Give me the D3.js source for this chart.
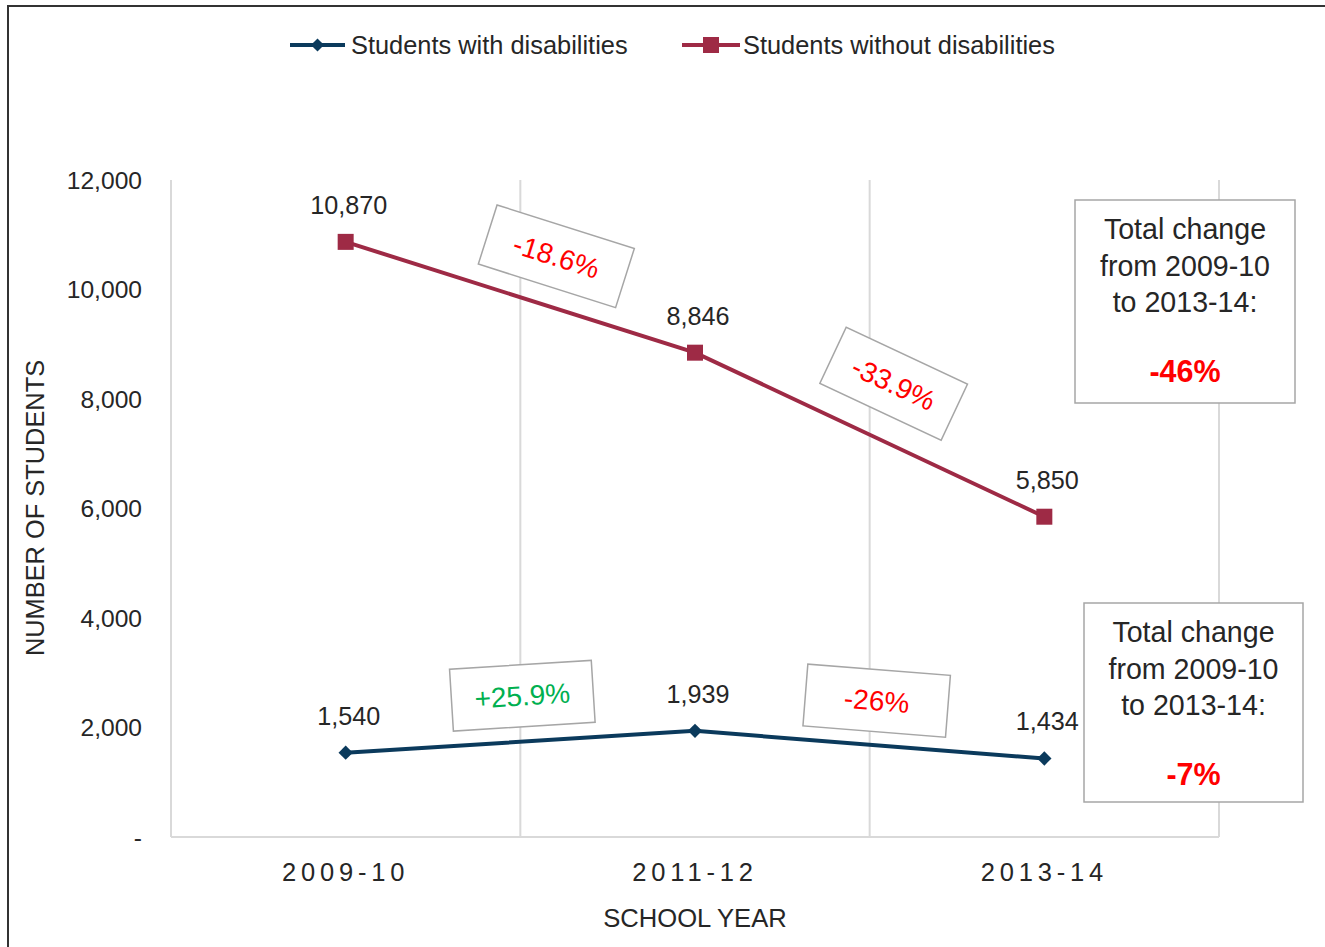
<!DOCTYPE html>
<html lang="en">
  <head>
    <meta charset="UTF-8" />
    <title>Students by school year</title>
    <script src="https://d3js.org/d3.v7.min.js"></script>
    <style>
      body { margin: 0; background: #fff; }
      svg { display: block; font-family: "Liberation Sans", Arial, sans-serif; }
    </style>
  </head>
  <body>
    <svg></svg>
    <script>
      // data
      const years = ["2009-10", "2011-12", "2013-14"];
      const withDis = [1540, 1939, 1434];
      const withoutDis = [10870, 8846, 5850];
      const seriesNames = ["Students with disabilities", "Students without disabilities"];
      const yTicks = [0, 2000, 4000, 6000, 8000, 10000, 12000];
      const changeWith = ["+25.9%", "-26%"];
      const changeWithout = ["-18.6%", "-33.9%"];
      const totalWith = "-7%";
      const totalWithout = "-46%";

      let width = 1325,
        height = 947;
      let svg = d3.select("svg").attr("width", width).attr("height", height);

      let margin = { left: 171, right: 1219, top: 180, bottom: 837 };
      let x = d3.scaleBand().domain(years).range([margin.left, margin.right]);
      let y = d3.scaleLinear().domain([0, 12000]).range([margin.bottom, margin.top]);
      let cx = (d) => x(d) + x.bandwidth() / 2;

      let navy = "#0b3a5c",
        maroon = "#9e2a45",
        txt = "#262626";

      // outer frame
      svg.append("path")
        .attr("d", "M8," + height + " L8,6 L" + width + ",6")
        .attr("fill", "none").attr("stroke", "#333").attr("stroke-width", 2);

      // vertical gridlines at category edges
      let edges = years.map((d) => x(d)).concat([margin.right]);
      svg.append("g").selectAll("line").data(edges).enter().append("line")
        .attr("x1", (d) => d).attr("x2", (d) => d)
        .attr("y1", margin.top).attr("y2", margin.bottom)
        .attr("stroke", "#d9d9d9").attr("stroke-width", 2);
      svg.append("line")
        .attr("x1", margin.left).attr("x2", margin.right)
        .attr("y1", margin.bottom).attr("y2", margin.bottom)
        .attr("stroke", "#d9d9d9").attr("stroke-width", 2);

      // y axis labels
      svg.append("g").selectAll("text").data(yTicks).enter().append("text")
        .attr("x", 142).attr("y", (d) => y(d)).attr("dy", "0.35em")
        .attr("text-anchor", "end").attr("font-size", 24.6).attr("fill", txt)
        .text((d) => (d === 0 ? "-" : d3.format(",")(d)));

      // x axis labels
      svg.append("g").selectAll("text").data(years).enter().append("text")
        .attr("x", cx).attr("y", 881)
        .attr("text-anchor", "middle").attr("font-size", 25.5)
        .attr("letter-spacing", 4.8).attr("fill", txt)
        .text((d) => d);

      // axis titles
      svg.append("text").attr("x", 695).attr("y", 927)
        .attr("text-anchor", "middle").attr("font-size", 25.6).attr("fill", txt)
        .text("SCHOOL YEAR");
      svg.append("text")
        .attr("transform", "translate(44,508) rotate(-90)")
        .attr("text-anchor", "middle").attr("font-size", 25.4).attr("fill", txt)
        .text("NUMBER OF STUDENTS");

      // lines
      let line = d3.line().x((d, i) => cx(years[i])).y((d) => y(d));
      [
        [withDis, navy],
        [withoutDis, maroon],
      ].forEach(([vals, col]) => {
        svg.append("path").datum(vals).attr("d", line)
          .attr("fill", "none").attr("stroke", col).attr("stroke-width", 4);
      });

      // markers
      svg.append("g").selectAll("path").data(withDis).enter().append("path")
        .attr("d", d3.symbol().type(d3.symbolDiamond2).size(130))
        .attr("transform", (d, i) => "translate(" + cx(years[i]) + "," + y(d) + ")")
        .attr("fill", navy);
      svg.append("g").selectAll("rect").data(withoutDis).enter().append("rect")
        .attr("x", (d, i) => cx(years[i]) - 8).attr("y", (d) => y(d) - 8)
        .attr("width", 16).attr("height", 16).attr("fill", maroon);

      // data labels
      [withDis, withoutDis].forEach((vals) => {
        svg.append("g").selectAll("text").data(vals).enter().append("text")
          .attr("x", (d, i) => cx(years[i]) + 3).attr("y", (d) => y(d) - 37)
          .attr("dy", "0.35em").attr("text-anchor", "middle")
          .attr("font-size", 25.2).attr("fill", txt)
          .text((d) => d3.format(",")(d));
      });

      // rotated change boxes between points
      function changeBoxes(vals, labels, offsets, boxW) {
        labels.forEach((lab, i) => {
          let x0 = cx(years[i]), y0 = y(vals[i]);
          let x1 = cx(years[i + 1]), y1 = y(vals[i + 1]);
          let ang = (Math.atan2(y1 - y0, x1 - x0) * 180) / Math.PI;
          let mx = (x0 + x1) / 2 + offsets[i][0],
            my = (y0 + y1) / 2 + offsets[i][1];
          let g = svg.append("g")
            .attr("transform", "translate(" + mx + "," + my + ") rotate(" + ang + ")");
          g.append("rect")
            .attr("x", -boxW[i] / 2).attr("y", -31)
            .attr("width", boxW[i]).attr("height", 62)
            .attr("fill", "#fff").attr("stroke", "#a6a6a6").attr("stroke-width", 1.5);
          g.append("text")
            .attr("text-anchor", "middle").attr("dy", "0.35em")
            .attr("font-size", 28)
            .attr("fill", lab[0] === "+" ? "#00b050" : "#ff0000")
            .text(lab);
        });
      }
      changeBoxes(withoutDis, changeWithout, [[36, -41], [24, -51]], [144, 134]);
      changeBoxes(withDis, changeWith, [[2, -46], [7, -44]], [142, 143]);

      // total change boxes
      function totalBox(bx, by, bw, bh, total) {
        let g = svg.append("g").attr("transform", "translate(" + bx + "," + by + ")");
        g.append("rect").attr("width", bw).attr("height", bh)
          .attr("fill", "#fff").attr("stroke", "#a6a6a6").attr("stroke-width", 1.5);
        ["Total change", "from 2009-10", "to 2013-14:"].forEach((t, i) => {
          g.append("text").attr("x", bw / 2).attr("y", 29 + i * 36.5)
            .attr("dy", "0.35em").attr("text-anchor", "middle")
            .attr("font-size", 28.6).attr("fill", txt).text(t);
        });
        g.append("text").attr("x", bw / 2).attr("y", 171)
          .attr("dy", "0.35em").attr("text-anchor", "middle")
          .attr("font-size", 30.5).attr("font-weight", "bold")
          .attr("fill", "#ff0000").text(total);
      }
      totalBox(1075, 200, 220, 203, totalWithout);
      totalBox(1084, 603, 219, 199, totalWith);

      // legend
      let legend = svg.append("g");
      let legItems = [
        { name: seriesNames[0], col: navy, x0: 290, x1: 345, tx: 351, shape: "diamond" },
        { name: seriesNames[1], col: maroon, x0: 682, x1: 740, tx: 743, shape: "square" },
      ];
      legItems.forEach((it) => {
        legend.append("line")
          .attr("x1", it.x0).attr("x2", it.x1).attr("y1", 45).attr("y2", 45)
          .attr("stroke", it.col).attr("stroke-width", 4);
        if (it.shape === "diamond") {
          legend.append("path")
            .attr("d", d3.symbol().type(d3.symbolDiamond2).size(110))
            .attr("transform", "translate(" + (it.x0 + it.x1) / 2 + ",45)")
            .attr("fill", it.col);
        } else {
          legend.append("rect")
            .attr("x", (it.x0 + it.x1) / 2 - 8).attr("y", 37)
            .attr("width", 16).attr("height", 16).attr("fill", it.col);
        }
        legend.append("text").attr("x", it.tx).attr("y", 45).attr("dy", "0.35em")
          .attr("font-size", 25.4).attr("fill", txt).text(it.name);
      });
    </script>
  </body>
</html>
